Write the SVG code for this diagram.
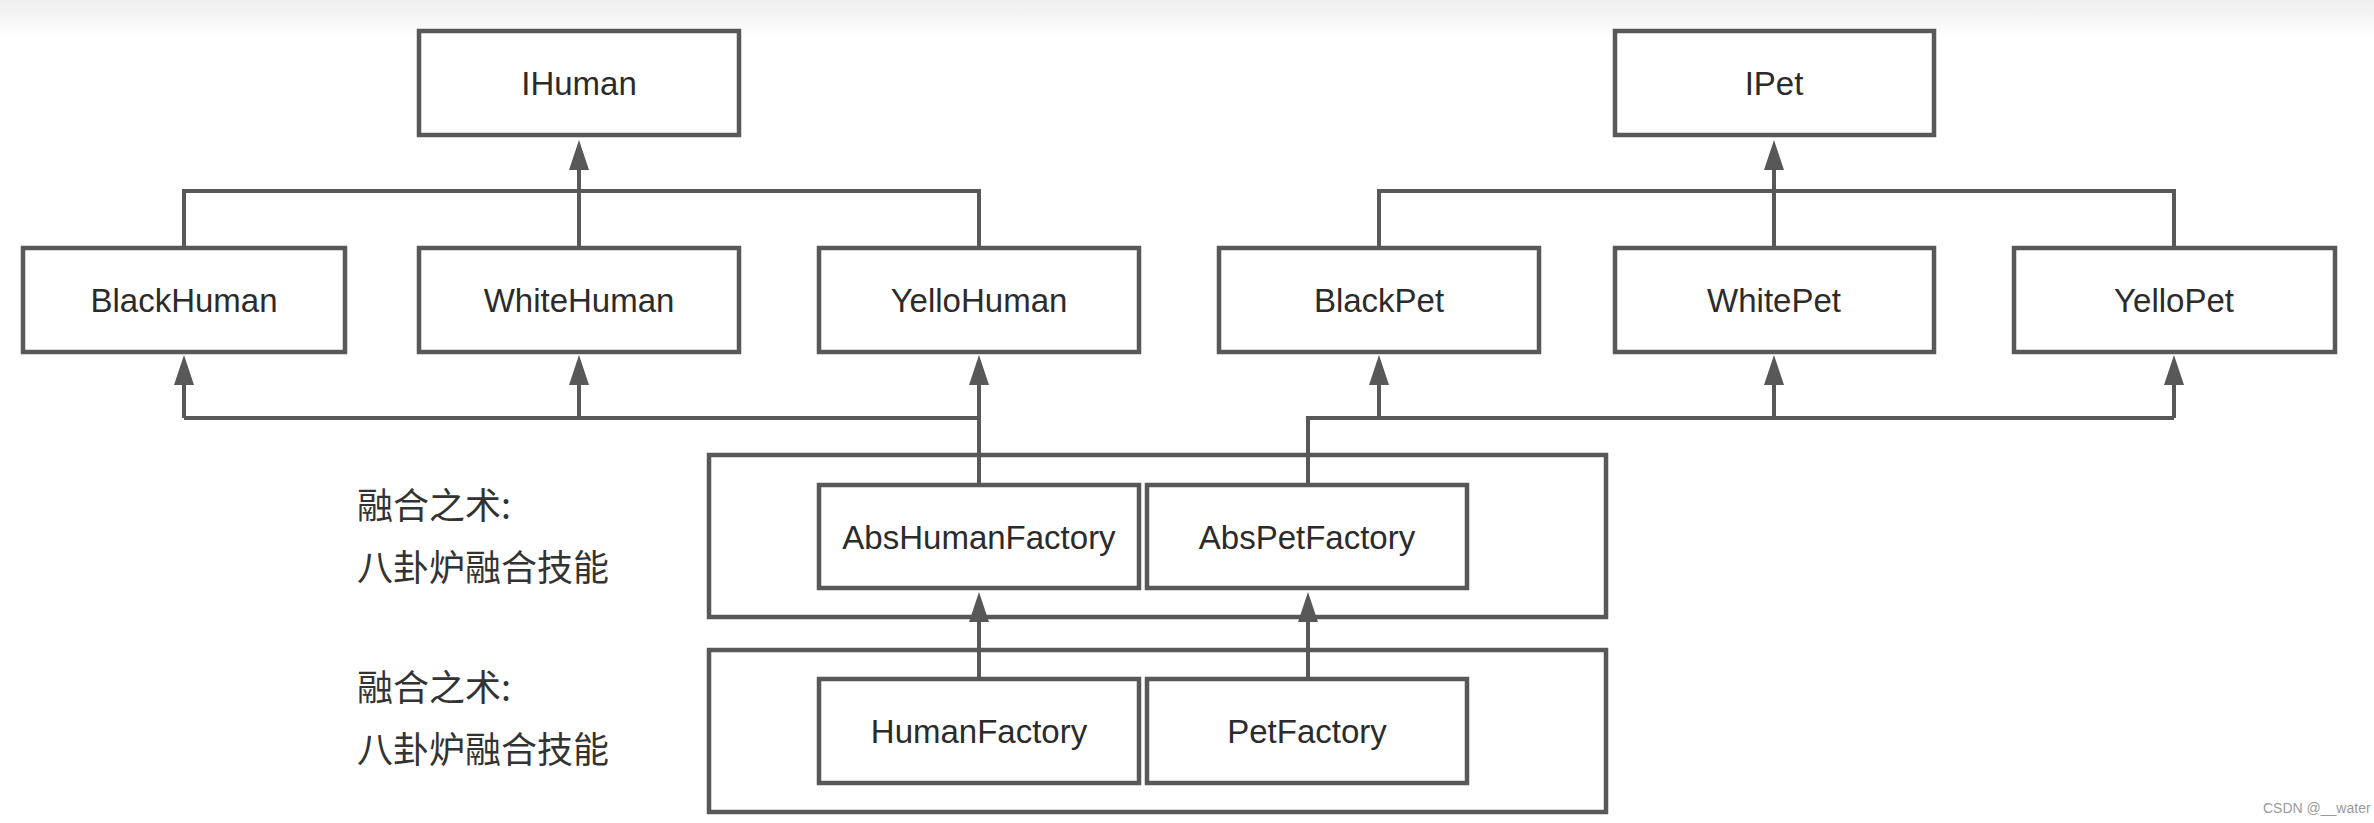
<svg xmlns="http://www.w3.org/2000/svg" width="2374" height="823" viewBox="0 0 2374 823">
<defs>
<linearGradient id="topShade" x1="0" y1="0" x2="0" y2="1">
<stop offset="0" stop-color="#eeeeee"/>
<stop offset="1" stop-color="#ffffff"/>
</linearGradient>
<marker id="arrow" viewBox="0 0 30 20" refX="18" refY="10" markerWidth="30" markerHeight="20" markerUnits="userSpaceOnUse" orient="auto">
<path d="M0,0 L30,10 L0,20 z" fill="#585858"/>
</marker>
<style>
.box{fill:#ffffff;stroke:#585858;stroke-width:4.5}
.lbl{font-family:"Liberation Sans","Noto Sans",sans-serif;font-size:33px;fill:#2b2b2b;text-anchor:middle}
.cn{font-family:"Noto Sans CJK SC","Noto Sans",sans-serif;font-size:36px;fill:#333333}
.ln{fill:none;stroke:#585858;stroke-width:4}
.ar{fill:none;stroke:#585858;stroke-width:4;marker-end:url(#arrow)}
.wm{font-family:"Liberation Sans",sans-serif;font-size:14px;fill:#9a9a9a}
</style>
</defs>
<rect x="0" y="0" width="2374" height="823" fill="#ffffff"/>
<rect x="0" y="0" width="2374" height="38" fill="url(#topShade)"/>

<g id="container-abs"><rect class="box" x="709" y="455" width="897" height="162"/></g>
<g id="container-impl"><rect class="box" x="709" y="650" width="897" height="162"/></g>

<g id="connectors">
<path class="ln" d="M184 248 V191 H979 V248"/>
<path class="ar" d="M579 248 V152"/>
<path class="ln" d="M979 485 V418 H184"/>
<path class="ar" d="M184 418 V367"/>
<path class="ar" d="M579 418 V367"/>
<path class="ar" d="M979 418 V367"/>
<path class="ln" d="M1379 248 V191 H2174 V248"/>
<path class="ar" d="M1774 248 V152"/>
<path class="ln" d="M1308 485 V418 H2174"/>
<path class="ar" d="M1379 418 V367"/>
<path class="ar" d="M1774 418 V367"/>
<path class="ar" d="M2174 418 V367"/>
<path class="ar" d="M979 679 V604"/>
<path class="ar" d="M1308 679 V604"/>
</g>

<g id="IHuman"><rect class="box" x="419" y="31" width="320" height="104"/><text class="lbl" x="579" y="95">IHuman</text></g>
<g id="IPet"><rect class="box" x="1615" y="31" width="319" height="104"/><text class="lbl" x="1774" y="95">IPet</text></g>
<g id="BlackHuman"><rect class="box" x="23" y="248" width="322" height="104"/><text class="lbl" x="184" y="312">BlackHuman</text></g>
<g id="WhiteHuman"><rect class="box" x="419" y="248" width="320" height="104"/><text class="lbl" x="579" y="312">WhiteHuman</text></g>
<g id="YelloHuman"><rect class="box" x="819" y="248" width="320" height="104"/><text class="lbl" x="979" y="312">YelloHuman</text></g>
<g id="BlackPet"><rect class="box" x="1219" y="248" width="320" height="104"/><text class="lbl" x="1379" y="312">BlackPet</text></g>
<g id="WhitePet"><rect class="box" x="1615" y="248" width="319" height="104"/><text class="lbl" x="1774" y="312">WhitePet</text></g>
<g id="YelloPet"><rect class="box" x="2014" y="248" width="321" height="104"/><text class="lbl" x="2174" y="312">YelloPet</text></g>
<g id="AbsHumanFactory"><rect class="box" x="819" y="485" width="320" height="103"/><text class="lbl" x="979" y="549">AbsHumanFactory</text></g>
<g id="AbsPetFactory"><rect class="box" x="1147" y="485" width="320" height="103"/><text class="lbl" x="1307" y="549">AbsPetFactory</text></g>
<g id="HumanFactory"><rect class="box" x="819" y="679" width="320" height="104"/><text class="lbl" x="979" y="743">HumanFactory</text></g>
<g id="PetFactory"><rect class="box" x="1147" y="679" width="320" height="104"/><text class="lbl" x="1307" y="743">PetFactory</text></g>

<g id="label-abs">
<text class="cn" x="357" y="519">融合之术:</text>
<text class="cn" x="357" y="581">八卦炉融合技能</text>
</g>
<g id="label-impl">
<text class="cn" x="357" y="701">融合之术:</text>
<text class="cn" x="357" y="763">八卦炉融合技能</text>
</g>
<text class="wm" x="2263" y="813">CSDN @__water</text>
</svg>
